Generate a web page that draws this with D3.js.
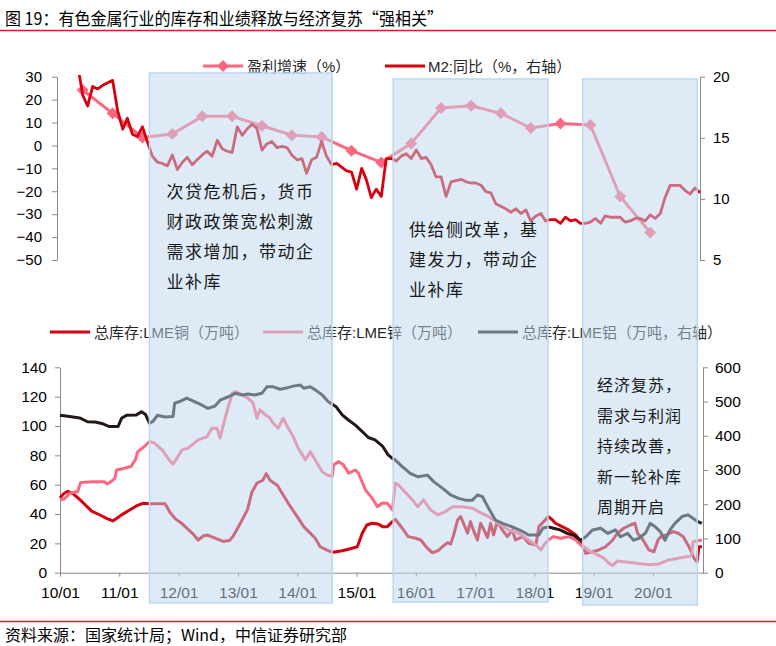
<!DOCTYPE html>
<html><head><meta charset="utf-8">
<script src="https://cdn.jsdelivr.net/npm/d3@7"></script>
<style>body{margin:0;background:#fff}</style>
</head><body><svg id="c" width="776" height="646"></svg>
<script>
// ---------------- DATA ----------------
const titleText = "图 19：有色金属行业的库存和业绩释放与经济复苏“强相关”";
const sourceText = "资料来源：国家统计局；Wind，中信证券研究部";

const profitLabel = "盈利增速（%）";
const m2Label = "M2:同比（%，右轴）";
const copperLabel = "总库存:LME铜（万吨）";
const zincLabel = "总库存:LME锌（万吨）";
const aluLabel = "总库存:LME铝（万吨，右轴）";

// M2 yoy (%), monthly from 2010-01
const m2Start = "2010-01-01";
const m2Values = [
 26.0,25.5,22.5,21.5,21.0,18.5,17.6,19.2,19.0,19.3,19.5,19.7,
 17.2,15.7,16.6,15.3,15.1,15.9,14.7,13.5,13.0,12.9,12.7,13.6,
 12.4,13.0,13.4,12.8,13.2,13.6,13.9,13.5,14.8,14.1,13.9,13.8,
 15.9,15.2,15.7,16.1,15.8,14.0,14.5,14.7,14.2,14.3,14.2,13.6,
 13.2,13.3,12.1,13.2,13.4,14.7,13.5,12.8,12.9,12.6,12.3,12.2,
 10.8,12.5,11.6,10.1,10.8,10.2,13.3,13.3,13.1,13.5,13.7,13.3,
 14.0,13.3,13.4,12.8,11.8,11.8,10.2,11.4,11.5,11.6,11.4,11.3,
 11.3,11.1,10.6,10.5,9.6,9.4,9.2,8.9,9.2,8.8,9.1,8.2,
 8.6,8.8,8.2,8.3,8.3,8.0,8.5,8.2,8.3,8.0,8.0,8.1,
 8.4,8.0,8.6,8.5,8.5,8.5,8.1,8.2,8.4,8.4,8.2,8.7,
 8.4,8.8,10.1,11.1,11.1,11.1,10.7,10.4,10.9,10.5
];

// Profit growth (%), semi-annual
const profitDates = ["2010-06-01","2010-12-01","2011-06-01","2011-12-01","2012-06-01","2012-12-01",
 "2013-06-01","2013-12-01","2014-06-01","2014-12-01","2015-06-01","2015-12-01","2016-06-01","2016-12-01",
 "2017-06-01","2017-12-01","2018-06-01","2018-12-01","2019-06-01","2019-12-01"];
const profitValues = [24.2,14,3.5,5,12.7,12.7,8.6,4.5,3.7,-2.3,-7.4,0.9,16.3,17.3,14,7.6,9.6,8.9,-22.3,-38];

// LME copper stocks (10k t)
const copperData = [["2010-01-01",51],["2010-01-25",54],["2010-02-18",55.5],["2010-03-20",54],["2010-05-02",50],["2010-06-08",46],["2010-07-15",42],["2010-09-01",39.5],["2010-10-15",37],["2010-11-22",35.3],["2010-12-15",37],["2011-01-15",39.4],["2011-03-06",42.8],["2011-04-16",45.5],["2011-05-25",47.3],["2011-07-06",47],["2011-10-10",47],["2011-11-10",41],["2011-12-15",36.5],["2012-01-22",33.5],["2012-03-25",27],["2012-05-01",22.3],["2012-06-01",25],["2012-06-25",25.7],["2012-08-13",23.5],["2012-10-01",21.3],["2012-11-10",22],["2012-12-03",25],["2013-01-15",33.5],["2013-02-28",42.8],["2013-03-28",55],["2013-04-28",61],["2013-06-03",63],["2013-06-24",67.5],["2013-07-18",63],["2013-09-01",59.5],["2013-10-01",54],["2013-11-07",47.3],["2014-01-01",38.2],["2014-02-10",31.4],["2014-03-22",27],["2014-04-22",23.5],["2014-05-22",17.7],["2014-07-10",15],["2014-08-10",14],["2014-10-05",15],["2014-11-12",16],["2015-01-06",17.7],["2015-02-06",27],["2015-03-06",32.5],["2015-04-06",33.7],["2015-05-15",33.2],["2015-06-10",31.4],["2015-07-10",31.4],["2015-08-10",34.8],["2015-08-28",36.4],["2015-10-10",30.3],["2015-11-15",24.6],["2016-01-01",23.5],["2016-02-01",22.3],["2016-03-13",16.6],["2016-04-13",13.6],["2016-05-18",15],["2016-06-13",17.7],["2016-07-15",20.5],["2016-08-03",19.5],["2016-08-21",25.7],["2016-09-15",36],["2016-10-03",38.2],["2016-10-21",33.7],["2016-11-15",26.9],["2016-12-03",34.8],["2016-12-21",29],["2017-01-15",22.3],["2017-02-03",33.7],["2017-03-01",28],["2017-03-18",24],["2017-04-06",33.7],["2017-04-24",25.7],["2017-05-18",35],["2017-06-18",29],["2017-07-18",24.6],["2017-08-18",29],["2017-09-06",22.3],["2017-10-21",24.6],["2017-11-27",20],["2018-01-10",18.9],["2018-01-28",31.4],["2018-02-21",34.1],["2018-03-28",38.2],["2018-04-21",36],["2018-05-10",33.7],["2018-06-21",31.4],["2018-08-01",29],["2018-09-13",25.7],["2018-10-13",21.1],["2018-11-01",16],["2018-11-13",13.2],["2018-12-25",14.3],["2019-02-01",15.5],["2019-03-15",17.7],["2019-04-28",22.3],["2019-05-28",26.9],["2019-07-04",30.3],["2019-08-15",32.5],["2019-09-12",33.7],["2019-09-28",26.9],["2019-11-01",22.3],["2019-12-07",15.5],["2020-01-07",14.3],["2020-02-01",22.3],["2020-02-19",24.6],["2020-03-28",26],["2020-05-04",28],["2020-06-04",26.9],["2020-07-04",24.6],["2020-08-10",17.7],["2020-09-10",9.8],["2020-09-28",7.5],["2020-10-10",17.7],["2020-10-28",17.7]];

// LME zinc stocks (10k t)
const zincData = [["2010-01-01",49.6],["2010-01-31",50.5],["2010-03-01",54.2],["2010-04-20",55.3],["2010-05-08",61.4],["2010-07-15",62],["2010-10-01",62],["2010-10-20",60.5],["2010-11-22",63],["2010-12-05",64.4],["2010-12-15",70],["2011-02-01",71.2],["2011-03-15",72.5],["2011-04-10",77],["2011-04-25",82.5],["2011-06-05",86],["2011-07-06",89.4],["2011-08-03",88.5],["2011-09-22",83.7],["2011-10-28",78],["2011-11-28",73.9],["2011-12-28",79],["2012-01-22",83.7],["2012-02-28",84.9],["2012-05-01",90.5],["2012-06-25",92.8],["2012-07-25",98.5],["2012-08-25",98.5],["2012-09-13",91.7],["2012-10-01",100],["2012-10-28",111],["2012-11-28",122.4],["2012-12-16",123.5],["2013-01-28",121.2],["2013-03-04",119],["2013-04-04",115.6],["2013-04-28",105.3],["2013-05-16",111],["2013-06-18",107.6],["2013-07-12",106],["2013-08-06",101.9],["2013-09-06",98.5],["2013-10-06",105.3],["2013-11-01",99.6],["2013-12-07",92.8],["2014-01-07",84.9],["2014-02-21",76.9],["2014-03-22",82.5],["2014-04-10",79],["2014-05-04",74.6],["2014-06-04",68.9],["2014-07-04",66.6],["2014-08-04",65.5],["2014-08-13",73.5],["2014-09-13",75.7],["2014-10-13",73.5],["2014-11-13",67.8],["2014-12-25",70],["2015-01-13",67.8],["2015-02-25",56.4],["2015-04-07",50.8],["2015-05-10",45],["2015-06-10",47.5],["2015-07-10",47.3],["2015-08-10",42.8],["2015-08-28",61],["2015-09-15",60],["2015-10-15",56.4],["2015-12-12",49.6],["2016-01-13",45],["2016-02-18",49.6],["2016-04-01",42.8],["2016-05-18",39.4],["2016-07-01",41.6],["2016-08-15",45],["2016-10-15",45],["2016-12-15",43.9],["2017-01-21",41.6],["2017-03-25",38.2],["2017-05-25",33.7],["2017-07-25",29.1],["2017-09-25",26.9],["2017-11-27",22.3],["2018-01-10",18.9],["2018-02-10",15.5],["2018-02-28",18.9],["2018-03-28",22.3],["2018-04-28",24.6],["2018-06-12",23.5],["2018-08-01",24.6],["2018-09-13",22.3],["2018-10-13",18.9],["2018-11-01",17.7],["2018-12-13",14.3],["2019-01-28",12],["2019-03-03",10],["2019-04-03",6.5],["2019-04-28",5],["2019-05-28",8],["2019-07-04",7.5],["2019-09-18",6.5],["2019-12-07",5.5],["2020-02-07",6],["2020-04-07",8.7],["2020-06-04",9.8],["2020-08-04",11],["2020-08-25",12],["2020-09-04",21.1],["2020-10-28",22.3]];

// LME aluminium stocks (10k t, right axis)
const aluData = [["2010-01-01",460],["2010-03-01",456],["2010-05-02",452],["2010-06-20",441],["2010-08-05",440],["2010-09-15",436],["2010-11-01",427],["2010-12-25",427],["2011-01-15",451],["2011-02-15",460],["2011-04-16",461],["2011-05-18",470],["2011-06-12",462],["2011-07-06",437],["2011-07-25",441],["2011-08-25",460],["2011-10-10",455],["2011-11-28",456],["2011-12-08",495],["2012-01-08",500],["2012-02-20",510],["2012-04-08",500],["2012-05-22",490],["2012-06-30",480],["2012-08-13",487],["2012-09-13",504],["2012-11-03",514],["2012-12-16",524],["2013-01-28",519],["2013-03-04",522],["2013-04-15",519],["2013-05-28",524],["2013-06-28",543],["2013-08-06",543],["2013-09-18",536],["2013-11-01",540],["2013-12-07",545],["2014-01-20",548],["2014-02-10",539],["2014-03-22",543],["2014-04-22",534],["2014-06-04",519],["2014-07-10",500],["2014-08-28",485],["2014-10-05",461],["2014-11-12",446],["2014-12-25",431],["2015-02-06",412],["2015-03-15",395],["2015-04-25",388],["2015-06-10",370],["2015-07-15",344],["2015-08-10",334],["2015-08-28",329],["2015-10-10",310],["2015-11-28",290],["2016-01-15",280],["2016-03-13",285],["2016-04-20",266],["2016-06-13",247],["2016-08-03",227],["2016-09-21",217],["2016-11-03",212],["2016-12-15",212],["2017-01-15",227],["2017-02-15",222],["2017-03-25",188],["2017-05-05",154],["2017-06-18",144],["2017-08-18",134],["2017-10-21",120],["2017-11-27",110],["2018-01-28",110],["2018-02-21",130],["2018-03-28",134],["2018-04-28",130],["2018-06-08",125],["2018-07-22",115],["2018-08-28",110],["2018-10-13",95],["2018-11-13",105],["2018-12-25",125],["2019-02-13",130],["2019-03-28",115],["2019-05-15",125],["2019-06-15",105],["2019-07-28",115],["2019-09-03",95],["2019-10-03",100],["2019-11-15",115],["2019-12-15",144],["2020-01-15",134],["2020-02-15",120],["2020-03-15",95],["2020-04-15",125],["2020-05-15",144],["2020-06-28",164],["2020-08-03",169],["2020-09-03",159],["2020-10-03",149],["2020-10-28",144]];

const topLeftTicks = [30,20,10,0,-10,-20,-30,-40,-50];
const topRightTicks = [20,15,10,5];
const botLeftTicks = [0,20,40,60,80,100,120,140];
const botRightTicks = [0,100,200,300,400,500,600];
const xTickYears = [2010,2011,2012,2013,2014,2015,2016,2017,2018,2019,2020];

const boxPeriods = [["2011-07-06","2014-08-04"],["2015-08-15","2018-03-25"],["2018-10-25","2020-09-30"]];
const boxTexts = [
 ["次贷危机后，货币","财政政策宽松刺激","需求增加，带动企","业补库"],
 ["供给侧改革，基","建发力，带动企","业补库"],
 ["经济复苏，","需求与利润","持续改善，","新一轮补库","周期开启"]
];

// ---------------- DRAW ----------------
const parse = d3.timeParse("%Y-%m-%d");
const RED = "#d7000f", PINK = "#ff6680", DARK = "#231815", AXIS = "#898989";
const LATIN = "'Liberation Sans', Arial, 'Noto Sans CJK SC', sans-serif";
const CJK = "'Noto Sans CJK SC', 'Liberation Sans', sans-serif";
const MIX = "'Liberation Sans', 'Noto Sans CJK SC', sans-serif";

const svg = d3.select("#c");
svg.append("rect").attr("width",776).attr("height",646).attr("fill","#fff");

// title & footer
svg.append("text").attr("x",5).attr("y",24.5).attr("font-family",CJK).attr("font-size",17)
  .attr("fill","#000").attr("textLength",438).attr("lengthAdjust","spacingAndGlyphs").text(titleText);
svg.append("line").attr("x1",0).attr("x2",776).attr("y1",30.5).attr("y2",30.5).attr("stroke","#d0202a").attr("stroke-width",1.5);
svg.append("line").attr("x1",0).attr("x2",776).attr("y1",621.5).attr("y2",621.5).attr("stroke","#d0202a").attr("stroke-width",1.5);
svg.append("text").attr("x",5).attr("y",640.5).attr("font-family",CJK).attr("font-size",15.5)
  .attr("fill","#000").attr("textLength",342).attr("lengthAdjust","spacingAndGlyphs").text(sourceText);

// ---- top chart ----
const xTop = d3.scaleTime().domain([parse("2010-01-01"), parse("2020-10-01")]).range([58,700]);
const yTL = d3.scaleLinear().domain([-50,30]).range([260,76.7]);
const yTR = d3.scaleLinear().domain([5,20]).range([260,76.7]);

svg.append("clipPath").attr("id","clipTop").append("rect").attr("x",57).attr("y",75).attr("width",645).attr("height",190);

function styleAxis(g, fs){
  g.selectAll("path.domain").attr("stroke",AXIS).attr("stroke-width",1);
  g.selectAll(".tick line").attr("stroke",AXIS).attr("stroke-width",1);
  g.selectAll(".tick text").attr("fill","#000").attr("font-size",fs).attr("font-family",LATIN);
}
const gTL = svg.append("g").attr("transform","translate(57,0)")
  .call(d3.axisLeft(yTL).tickValues(topLeftTicks).tickSize(5).tickSizeOuter(0).tickPadding(10));
styleAxis(gTL,15);
const gTR = svg.append("g").attr("transform","translate(700,0)")
  .call(d3.axisRight(yTR).tickValues(topRightTicks).tickSize(5).tickSizeOuter(0).tickPadding(8));
styleAxis(gTR,15);

const profit = profitDates.map((d,i)=>({d:parse(d), v:profitValues[i]}));
const m2 = m2Values.map((v,i)=>({d:d3.timeMonth.offset(parse(m2Start), i), v}));

const topG = svg.append("g").attr("clip-path","url(#clipTop)");
topG.append("path").datum(profit).attr("fill","none").attr("stroke",PINK).attr("stroke-width",3)
  .attr("stroke-linejoin","round")
  .attr("d", d3.line().x(d=>xTop(d.d)).y(d=>yTL(d.v)));
const diamond = "M0,-6L6,0L0,6L-6,0Z";
topG.selectAll("path.dm").data(profit).enter().append("path").attr("class","dm")
  .attr("d",diamond).attr("fill",PINK)
  .attr("transform",d=>`translate(${xTop(d.d)},${yTL(d.v)})`);
topG.append("path").datum(m2).attr("fill","none").attr("stroke",RED).attr("stroke-width",2.8)
  .attr("stroke-linejoin","round")
  .attr("d", d3.line().x(d=>xTop(d.d)).y(d=>yTR(d.v)));

// top legend
svg.append("line").attr("x1",203).attr("x2",243).attr("y1",66).attr("y2",66).attr("stroke",PINK).attr("stroke-width",3);
svg.append("path").attr("d",diamond).attr("fill",PINK).attr("transform","translate(223,66)");
svg.append("text").attr("x",247).attr("y",71.5).attr("font-family",MIX).attr("font-size",15).attr("fill","#262626").text(profitLabel);
svg.append("line").attr("x1",385).attr("x2",425).attr("y1",66).attr("y2",66).attr("stroke",RED).attr("stroke-width",3);
svg.append("text").attr("x",428).attr("y",71.5).attr("font-family",MIX).attr("font-size",15).attr("fill","#262626").text(m2Label);

// ---- bottom chart ----
const xBot = d3.scaleTime().domain([parse("2010-01-01"), parse("2020-11-04")]).range([60,703]);
const yBL = d3.scaleLinear().domain([0,140]).range([572.7,367.3]);
const yBR = d3.scaleLinear().domain([0,600]).range([572.7,367.3]);

const gBL = svg.append("g").attr("transform","translate(60,0)")
  .call(d3.axisLeft(yBL).tickValues(botLeftTicks).tickSize(5).tickSizeOuter(0).tickPadding(8));
styleAxis(gBL,15.5);
const gBR = svg.append("g").attr("transform","translate(703,0)")
  .call(d3.axisRight(yBR).tickValues(botRightTicks).tickSize(5).tickSizeOuter(0).tickPadding(7));
styleAxis(gBR,15.5);
const gBX = svg.append("g").attr("transform","translate(0,572.7)")
  .call(d3.axisBottom(xBot).tickValues(xTickYears.map(y=>new Date(y,0,1))).tickFormat(d3.timeFormat("%y/%m"))
  .tickSize(4).tickSizeOuter(0).tickPadding(10));
styleAxis(gBX,15.5);

const toPts = arr => arr.map(p=>({d:parse(p[0]), v:p[1]}));
const lineL = d3.line().x(d=>xBot(d.d)).y(d=>yBL(d.v));
const lineR = d3.line().x(d=>xBot(d.d)).y(d=>yBR(d.v));
svg.append("path").datum(toPts(copperData)).attr("fill","none").attr("stroke",RED).attr("stroke-width",3).attr("stroke-linejoin","round").attr("d",lineL);
svg.append("path").datum(toPts(zincData)).attr("fill","none").attr("stroke",PINK).attr("stroke-width",3).attr("stroke-linejoin","round").attr("d",lineL);
svg.append("path").datum(toPts(aluData)).attr("fill","none").attr("stroke",DARK).attr("stroke-width",3).attr("stroke-linejoin","round").attr("d",lineR);

// bottom legend
const legB = [[50,94,RED,copperLabel],[263,307,PINK,zincLabel],[478,522,DARK,aluLabel]];
legB.forEach(([lx,tx,c,t])=>{
  svg.append("line").attr("x1",lx).attr("x2",lx+40).attr("y1",332).attr("y2",332).attr("stroke",c).attr("stroke-width",3);
  svg.append("text").attr("x",tx).attr("y",337.5).attr("font-family",MIX).attr("font-size",15).attr("fill","#262626").text(t);
});

// ---- shaded periods (overlay) ----
const boxY = [[73,603],[79,602],[79,605]];
boxPeriods.forEach((p,i)=>{
  const x0 = xBot(parse(p[0])), x1 = xBot(parse(p[1]));
  svg.append("rect").attr("x",x0).attr("y",boxY[i][0]).attr("width",x1-x0).attr("height",boxY[i][1]-boxY[i][0])
    .attr("fill","#bdd7ee").attr("fill-opacity",0.5).attr("stroke","#bdd7ee").attr("stroke-width",1.5);
});

// box annotations
const annos = [
  {x:166.5, y0:198, dy:30, fs:17, ls:1.5},
  {x:409, y0:235.5, dy:30, fs:17, ls:1.5},
  {x:597, y0:391, dy:30.6, fs:16, ls:1}
];
boxTexts.forEach((lines,i)=>{
  const a = annos[i];
  lines.forEach((t,j)=>{
    svg.append("text").attr("x",a.x).attr("y",a.y0+j*a.dy).attr("font-family",CJK)
      .attr("font-size",a.fs).attr("letter-spacing",a.ls).attr("fill","#1a1a1a").text(t);
  });
});
</script>
</body></html>
